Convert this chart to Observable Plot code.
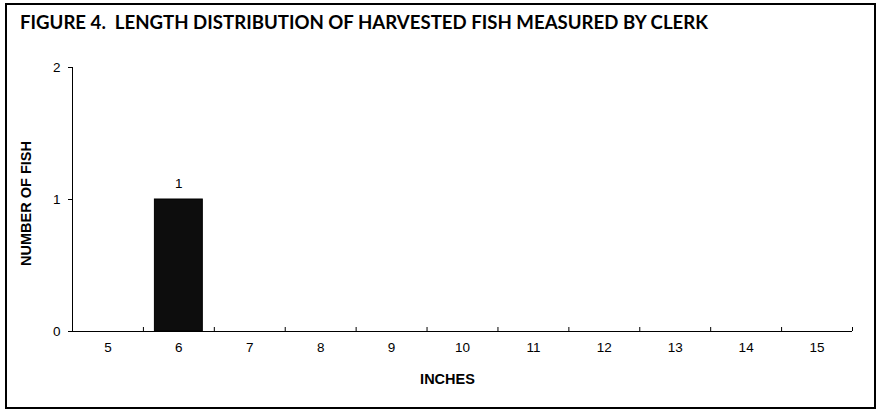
<!DOCTYPE html>
<html>
<head>
<meta charset="utf-8">
<script src="https://cdn.jsdelivr.net/npm/d3@7"></script>
<script src="https://cdn.jsdelivr.net/npm/@observablehq/plot@0.6"></script>
<style>
  html, body { margin: 0; padding: 0; background: #fff; }
  #wrap { position: relative; width: 876px; height: 409px; overflow: hidden; }
  #chart { position: absolute; left: 0; top: 0; }
  #chart svg text { font-family: 'Liberation Sans', Arial, sans-serif; }
  #chart svg g[aria-label="x-axis tick label"],
  #chart svg g[aria-label="y-axis tick label"],
  #chart svg g[aria-label="text"] { font-size: 13.5px; }
  #chart svg g.axis-title { font-size: 14.5px; font-weight: bold; }
  #border { position: absolute; left: 5px; top: 3px; width: 871px; height: 406px;
            border: 2px solid #000; box-sizing: border-box; pointer-events: none; }
  #title { position: absolute; left: 0; top: 0; pointer-events: none; }
</style>
</head>
<body>
<div id="wrap">
  <div id="chart"></div>
  <svg id="title" width="876" height="40">
    <text x="20" y="29" font-family="Lato, 'Open Sans', sans-serif" font-weight="bold" font-size="18"
          textLength="688" lengthAdjust="spacingAndGlyphs" fill="#000">FIGURE 4.&#160; LENGTH DISTRIBUTION OF HARVESTED FISH MEASURED BY CLERK</text>
  </svg>
  <div id="border"></div>
</div>
<script>
// Data
const inches = [5, 6, 7, 8, 9, 10, 11, 12, 13, 14, 15];
const counts = [0, 1, 0, 0, 0, 0, 0, 0, 0, 0, 0];
const yTicks = [0, 1, 2];
const xTitle = "INCHES";
const yTitle = "NUMBER OF FISH";

const data = inches.map((inch, i) => ({inch, count: counts[i]}));
const bounds = [inches[0] - 0.5, ...inches.map(v => v + 0.5)];

const chart = Plot.plot({
  width: 876,
  height: 409,
  marginLeft: 72,
  marginRight: 24,
  marginTop: 67,
  marginBottom: 78,
  style: {fontFamily: "'Liberation Sans', Arial, sans-serif", fontSize: "13.5px", color: "#000", background: "transparent"},
  x: {domain: [inches[0] - 0.5, inches[inches.length - 1] + 0.5]},
  y: {domain: [0, 2]},
  marks: [
    Plot.rectY(data.filter(d => d.count > 0), {
      x1: d => d.inch - 0.5, x2: d => d.inch + 0.5, y: "count",
      fill: "#0d0d0d", stroke: "#000", insetLeft: 11.5, insetRight: 11.5
    }),
    Plot.ruleX([bounds[0]], {y1: 0, y2: 2, stroke: "#000"}),
    Plot.ruleY([0], {stroke: "#000", insetLeft: -4}),
    Plot.ruleX(bounds, {y1: 0, y2: 0, insetBottom: 4, stroke: "#000"}),
    Plot.axisY(yTicks, {tickSize: 4, tickPadding: 8, label: null, tickFormat: d3.format("d")}),
    Plot.axisX(inches, {tickSize: 0, tickPadding: 11, label: null, tickFormat: d => String(d)}),
    Plot.text(data.filter(d => d.count > 0), {
      x: "inch", y: "count", text: d => String(d.count), dy: -16, fill: "#000"
    }),
    Plot.text([xTitle], {frameAnchor: "bottom", dy: 52, dx: -15, className: "axis-title", fill: "#000"}),
    Plot.text([yTitle], {frameAnchor: "left", textAnchor: "middle", dx: -46, dy: 4, rotate: -90, className: "axis-title", fill: "#000"})
  ]
});
document.getElementById("chart").appendChild(chart);
</script>
</body>
</html>
